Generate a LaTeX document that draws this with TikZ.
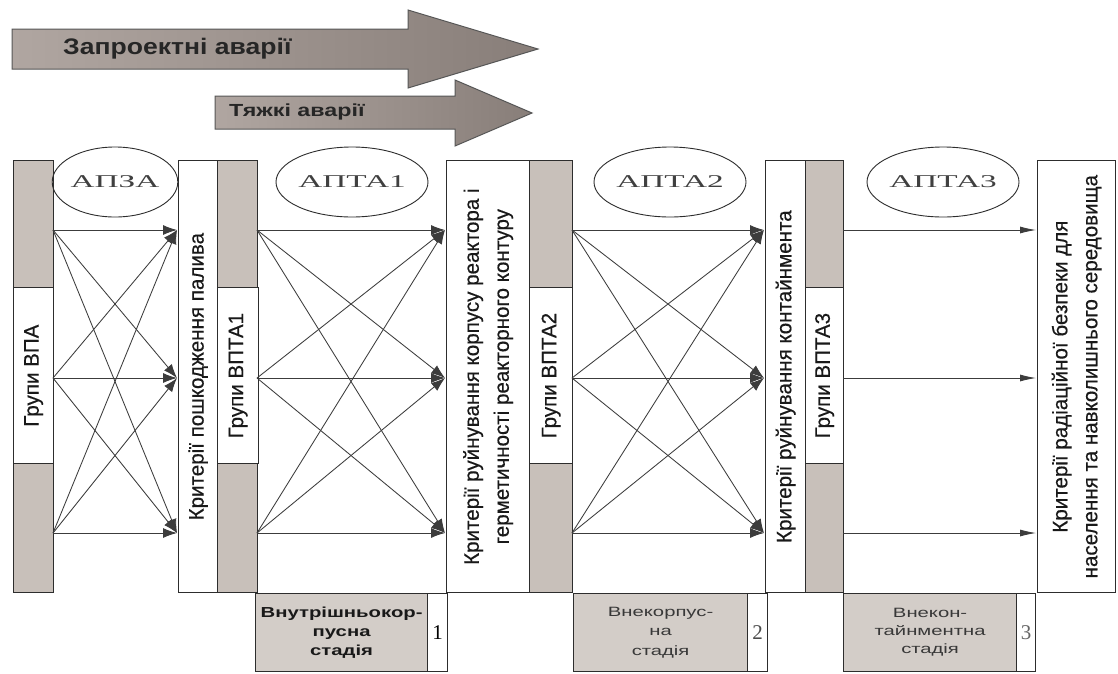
\documentclass[tikz,border=0pt]{standalone}
\usepackage{fontspec}
\setmainfont{Liberation Sans}
\newfontfamily\colfont[FakeStretch=0.98,FakeBold=0.4]{Liberation Sans}
\newfontfamily\arrfont[FakeStretch=1.18]{Liberation Sans}
\newfontfamily\arrfontb[FakeStretch=1.33]{Liberation Sans}
\newfontfamily\ellfont[FakeStretch=1.85]{Liberation Serif}
\newfontfamily\stfont[FakeStretch=1.5]{Liberation Sans}
\newfontfamily\stfontb[FakeStretch=1.4]{Liberation Sans}
\newfontfamily\numfont{Liberation Serif}
\usetikzlibrary{shapes.geometric,arrows.meta}
\definecolor{colgray}{RGB}{200,192,186}
\definecolor{boxgray}{RGB}{211,205,200}
\definecolor{edge}{RGB}{45,45,45}
\definecolor{connc}{RGB}{60,60,60}
\definecolor{arrA}{RGB}{176,166,161}
\definecolor{arrB}{RGB}{198,189,184}
\definecolor{arrC}{RGB}{136,126,121}
\begin{document}
\begin{tikzpicture}[x=1pt,y=-1pt,
  grayc/.style={draw=edge, line width=1.3pt, fill=colgray, inner sep=0pt, anchor=north west, minimum height=432pt},
  whitec/.style={draw=edge, line width=1.3pt, fill=white, inner sep=0pt, anchor=north west},
  coltext/.style={rotate=90, font=\colfont\fontsize{21}{30}\selectfont, align=center, inner sep=0pt, text=black!90},
  ell/.style={ellipse, draw=edge, line width=0.9pt, minimum width=102pt, minimum height=70pt, inner sep=0pt, font=\ellfont\fontsize{18}{20}\selectfont, text=black!75},
  conn/.style={draw=connc, line width=0.85pt, -{Latex[length=14pt,width=10pt]}},
  connfour/.style={draw=connc, line width=0.85pt, -{Latex[length=16pt,width=7pt]}},
  stage/.style={draw=edge, line width=1.2pt, fill=boxgray, anchor=north west, inner sep=0pt, minimum height=78pt},
  numbox/.style={draw=edge, line width=1.2pt, fill=white, anchor=north west, inner sep=0pt, minimum height=78pt, minimum width=20pt, font=\numfont\fontsize{21}{22}\selectfont},
  arrowtxt/.style={anchor=west, inner sep=0pt, text=black!85}
]
\fill[white] (0,0) rectangle (1118,673);
\useasboundingbox (0,0) rectangle (1118,673);

% block arrows
\shade[left color=arrA, middle color=arrB, right color=arrC, draw=edge!80, line width=1pt]
  (12,29) -- (408,29) -- (408,10) -- (538,49) -- (408,88) -- (408,69) -- (12,69) -- cycle;
\node[arrowtxt, font=\arrfont\bfseries\fontsize{22.5}{24}\selectfont] (zap) at (63,49) {Запроектні аварії};
\shade[left color=arrA, middle color=arrB, right color=arrC, draw=edge!80, line width=1pt]
  (215,96) -- (455,96) -- (455,80) -- (532,113) -- (455,146) -- (455,129) -- (215,129) -- cycle;
\node[arrowtxt, font=\arrfontb\bfseries\fontsize{17.5}{20}\selectfont] (tyazh) at (229,112) {Тяжкі аварії};

% columns
\node[grayc, minimum width=40pt] (vpa) at (13,160) {};
\node[whitec, minimum width=40pt, minimum height=176pt] (vpaw) at (13,287) {};
\node[coltext] (vpat) at (vpaw.center) {Групи ВПА};

\node[whitec, minimum width=39pt, minimum height=432pt] (k1) at (178,160) {};
\node[coltext] (k1t) at (k1.center) {Критерії пошкодження палива};
\node[grayc, minimum width=40pt] (v1) at (217,160) {};
\node[whitec, minimum width=41pt, minimum height=176pt] (v1w) at (217,287) {};
\node[coltext] (v1t) at (v1w.center) {Групи ВПТА1};

\node[whitec, minimum width=83pt, minimum height=432pt] (k2) at (446,160) {};
\node[coltext] (k2t) at (k2.center) {Критерії руйнування корпусу реактора і\\герметичності реакторного контуру};
\node[grayc, minimum width=43pt] (v2) at (529,160) {};
\node[whitec, minimum width=43pt, minimum height=176pt] (v2w) at (529,287) {};
\node[coltext] (v2t) at (v2w.center) {Групи ВПТА2};

\node[whitec, minimum width=40pt, minimum height=432pt] (k3) at (765,160) {};
\node[coltext] (k3t) at (k3.center) {Критерії руйнування контайнмента};
\node[grayc, minimum width=38pt] (v3) at (805,160) {};
\node[whitec, minimum width=38pt, minimum height=176pt] (v3w) at (805,287) {};
\node[coltext] (v3t) at (v3w.center) {Групи ВПТА3};

\node[whitec, minimum width=78pt, minimum height=432pt] (k4) at (1037,160) {};
\node[coltext] (k4t) at (k4.center) {Критерії радіаційної безпеки для\\населення та навколишнього середовища};

% connectors
\foreach \i/\y in {1/230,2/378,3/533}{
  \coordinate (a\i) at (53,\y);
  \coordinate (b\i) at (177,\y);
  \coordinate (c\i) at (257,\y);
  \coordinate (d\i) at (445,\y);
  \coordinate (e\i) at (572,\y);
  \coordinate (f\i) at (764,\y);
  \coordinate (g\i) at (843,\y);
  \coordinate (h\i) at (1036,\y);
}
\foreach \i in {1,2,3}{
  \foreach \j in {1,2,3}{
    \draw[conn] (a\i) -- (b\j);
    \draw[conn] (c\i) -- (d\j);
    \draw[conn] (e\i) -- (f\j);
  }
  \draw[connfour] (g\i) -- (h\i);
}

% ellipses
\node[ell] (apza) at (115,182) {АПЗА};
\node[ell] (apta1) at (352,182) {АПТА1};
\node[ell] (apta2) at (670,182) {АПТА2};
\node[ell] (apta3) at (943,182) {АПТА3};

% stages
\node[stage, minimum width=172pt] (st1) at (255,593) {};
\node[font=\stfontb\bfseries\fontsize{14.5}{19}\selectfont, align=center, text=black!90, inner sep=0pt] (st1t) at (st1.center) {Внутрішньокор-\\пусна\\стадія};
\node[numbox] (n1) at (427,593) {1};
\node[stage, minimum width=174pt] (st2) at (573,593) {};
\node[font=\stfont\fontsize{13.5}{19.5}\selectfont, align=center, text=black!78, inner sep=0pt] (st2t) at (st2.center) {Внекорпус-\\на\\стадія};
\node[numbox, text=black!70] (n2) at (747,593) {2};
\node[stage, minimum width=173pt] (st3) at (843,593) {};
\node[font=\stfont\fontsize{13.5}{18}\selectfont, align=center, text=black!78, inner sep=0pt] (st3t) at (st3.center) {Внекон-\\тайнментна\\стадія};
\node[numbox, minimum width=19pt, text=black!60] (n3) at (1016,593) {3};
\end{tikzpicture}
\end{document}
